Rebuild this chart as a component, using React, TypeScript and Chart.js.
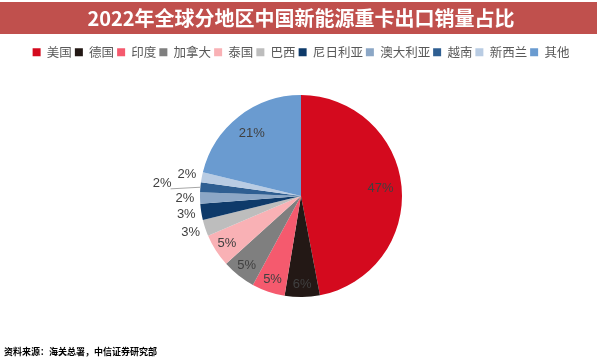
import React, { useEffect, useRef } from "react";
import { Chart, registerables } from "chart.js";

Chart.register(...registerables);

const titleText = "2022年全球分地区中国新能源重卡出口销量占比";
const sourceText = "资料来源：海关总署，中信证券研究部";
const categories = ["美国", "德国", "印度", "加拿大", "泰国", "巴西", "尼日利亚", "澳大利亚", "越南", "新西兰", "其他"];
const shares = [47.0, 5.6, 5.3, 5.4, 5.3, 2.6, 2.6, 1.8, 1.6, 1.6, 21.2];
const sliceColors = ["#D40A1E", "#231815", "#F55A6E", "#7F7F7F", "#F9B1B5", "#BDBDBD", "#0E3A6A", "#8CA7C6", "#2F5F92", "#B9CCE3", "#6A9BD0"];

const CJK = '"Noto Sans CJK SC", "Microsoft YaHei", sans-serif';
const LATIN = '"Liberation Sans", Arial, sans-serif';

const titleBarPlugin = {
  id: "titleBar",
  beforeDraw(chart: any) {
    const tb = chart.titleBlock;
    if (!tb) return;
    const ctx = chart.ctx;
    ctx.save();
    ctx.fillStyle = "#C0504D";
    ctx.fillRect(0, tb.top, 597, 32);
    ctx.restore();
  },
};

const sliceLabelPlugin = {
  id: "sliceLabels",
  afterDatasetsDraw(chart: any) {
    const ctx = chart.ctx;
    const meta = chart.getDatasetMeta(0);
    const data = chart.data.datasets[0].data as number[];
    const total = data.reduce((a, b) => a + b, 0);
    ctx.save();
    ctx.font = "13px " + LATIN;
    ctx.textAlign = "center";
    ctx.textBaseline = "middle";
    const placed: { x: number; y: number; w: number; h: number }[] = [];
    for (let i = meta.data.length - 1; i >= 0; i--) {
      const arc = meta.data[i];
      const p = arc.getProps(["x", "y", "startAngle", "endAngle", "outerRadius"], true);
      const mid = (p.startAngle + p.endAngle) / 2;
      const pct = (data[i] / total) * 100;
      const text = Math.round(pct) + "%";
      const w = ctx.measureText(text).width;
      const h = 13;
      let f = pct >= 20 ? 0.79 : pct >= 4.5 ? 0.87 : 1.15;
      let lx = p.x + Math.cos(mid) * p.outerRadius * f;
      let ly = p.y + Math.sin(mid) * p.outerRadius * f;
      if (pct < 4.5) {
        const overlap = placed.some(
          (b) => Math.abs(b.x - lx) < (b.w + w) / 2 && Math.abs(b.y - ly) < (b.h + h) / 2
        );
        if (overlap) {
          f = 1.38;
          lx = p.x + Math.cos(mid) * p.outerRadius * f;
          ly = p.y + Math.sin(mid) * p.outerRadius * f;
          const ex = p.x + Math.cos(mid) * p.outerRadius;
          const ey = p.y + Math.sin(mid) * p.outerRadius;
          ctx.strokeStyle = "#A6A6A6";
          ctx.lineWidth = 1;
          ctx.beginPath();
          ctx.moveTo(lx + w / 2 - 1, ly + 5);
          ctx.lineTo(ex, ey);
          ctx.stroke();
        }
        placed.push({ x: lx, y: ly, w, h });
      }
      ctx.fillStyle = "#404040";
      ctx.fillText(text, lx, ly);
    }
    ctx.restore();
  },
};

export default function App() {
  const canvasRef = useRef<HTMLCanvasElement | null>(null);

  useEffect(() => {
    document.body.style.margin = "0";
    const canvas = canvasRef.current;
    if (!canvas) return;
    const chart = new Chart(canvas, {
      type: "pie",
      data: {
        labels: categories,
        datasets: [
          {
            data: shares,
            backgroundColor: sliceColors,
            borderWidth: 0,
            radius: 101,
          } as any,
        ],
      },
      options: {
        responsive: false,
        animation: false,
        devicePixelRatio: 1,
        layout: { padding: { top: 2, left: 4, right: 2, bottom: 3 } },
        plugins: {
          title: {
            display: true,
            text: titleText,
            color: "#FFFFFF",
            font: { size: 20, weight: "bold", family: CJK, lineHeight: 1.2 },
            padding: { top: 4, bottom: 13 },
          },
          subtitle: {
            display: true,
            position: "bottom",
            align: "start",
            text: sourceText,
            color: "#000000",
            font: { size: 9, weight: "bold", family: CJK, lineHeight: 1.2 },
            padding: { top: 22.5, bottom: 2 },
          },
          legend: {
            display: true,
            position: "top",
            labels: {
              boxWidth: 8,
              boxHeight: 8,
              padding: 3,
              color: "#595959",
              font: { size: 12.5, family: CJK },
            },
          },
          tooltip: { enabled: false },
        },
      } as any,
      plugins: [titleBarPlugin, sliceLabelPlugin],
    });
    return () => chart.destroy();
  }, []);

  return (
    <div style={{ width: 600, height: 362, background: "#FFFFFF" }}>
      <canvas ref={canvasRef} width={600} height={362} style={{ display: "block" }} />
    </div>
  );
}
